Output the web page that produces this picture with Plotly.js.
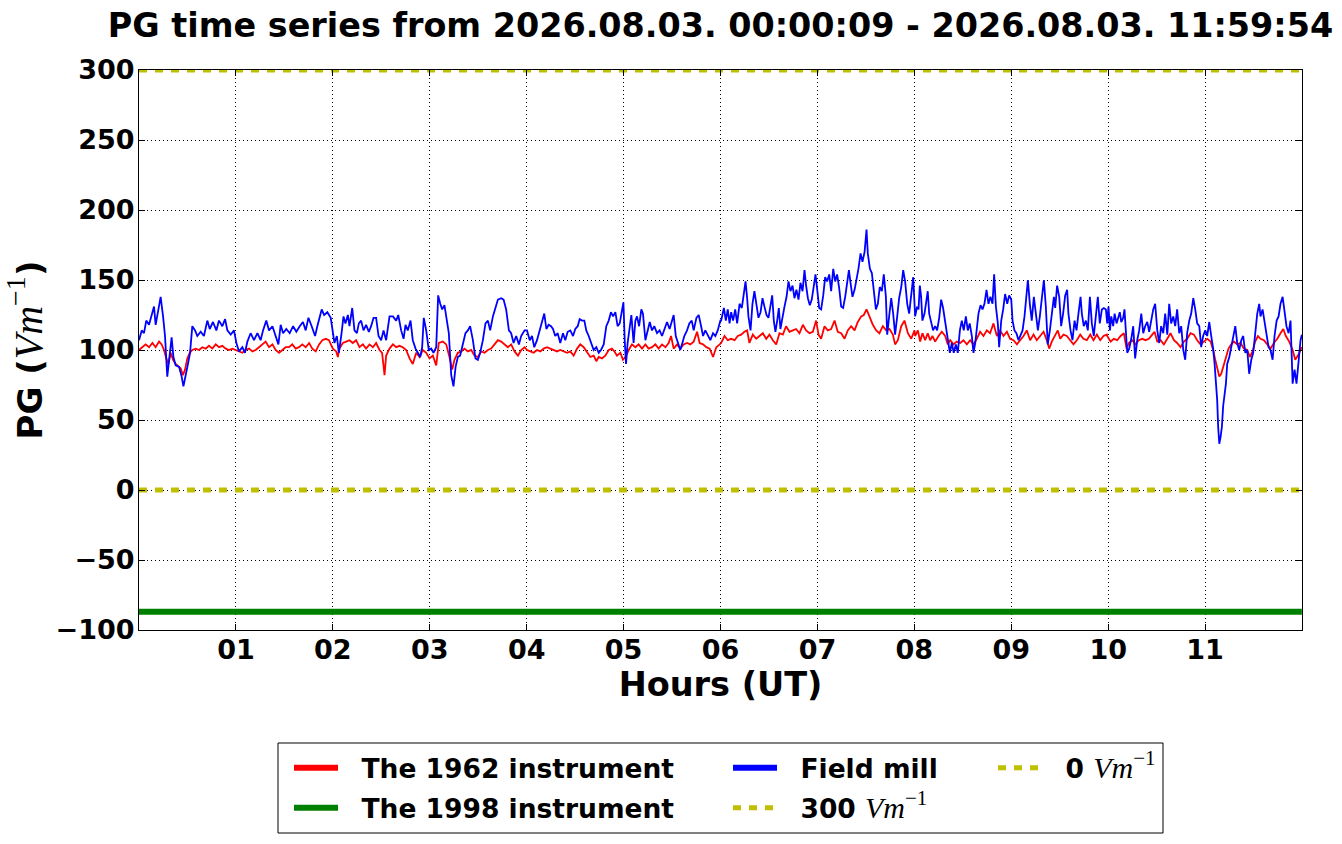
<!DOCTYPE html>
<html><head><meta charset="utf-8">
<script src="https://cdn.plot.ly/plotly-3.0.1.min.js"></script>
<style>html,body{margin:0;padding:0;background:#fff}#chart{width:1342px;height:844px}</style>
</head><body><div id="chart"></div>
<script>
const titleText = 'PG time series from 2026.08.03. 00:00:09 - 2026.08.03. 11:59:54';
const hourTickLabels = ['01','02','03','04','05','06','07','08','09','10','11'];

const redMinutes = [
0,2.1,4.1,6.2,8.3,10.3,12.4,14.0,15.5,16.9,18.2,19.6,21.1,22.7,24.4,25.8,27.2,28.5,29.9,31.4,
33.0,35.1,37.2,39.2,41.3,43.3,45.4,47.5,49.5,51.6,53.7,55.7,57.8,59.9,61.9,64,66,68.1,70.2,72.2,
74.3,76.4,78.4,80.5,82.6,84.6,86.7,88.8,90.8,92.9,94.9,97,99.1,101.1,103.2,105.3,107.3,109.4,111.5,113.5,
115.6,117.6,119.7,
120,122.1,123.1,124.1,126.2,128.3,130.3,132.4,134.4,136.5,138.6,140.6,142.7,144.8,146.8,148.9,150.5,152,153,155.1,
157.2,159.2,161.3,163.3,165.4,167.5,169.5,171.6,173.7,175.7,177.8,179.9,181.9,184,185.6,188.1,190.2,192.2,193.9,195.3,
197.4,199.5,201.5,203.6,205.7,207.7,209.8,211.8,213.9,216,218,220.1,222.2,224.2,226.3,228.4,230.4,232.5,234.6,236.6,
238.7,
240.2,242.3,244.3,246.4,248.5,250.5,252.6,254.6,256.7,258.8,260.8,262.9,265,267,269.1,271.2,273.2,275.3,277.4,279.4,
281.5,283.1,284.6,286.6,288.7,290.8,292.8,294.3,295.9,298,299.6,301.1,303.2,305.2,307.3,309.3,311.4,313.5,315.5,317.6,
319.7,321.7,323.8,325.9,327.9,329.4,331,333.1,335.1,337.2,339.3,341.3,343.4,345.5,347.1,349.2,351.2,353.3,355.4,357.4,
359.5,
360.4,362.5,364.5,366.6,368.7,370.7,372.8,374.8,376.5,377.9,380,382.1,384.1,386.2,388.3,390.3,392.4,394.5,396.5,398.6,
400.6,402.7,404.8,406.8,408.9,411,413,415.1,417.2,419.2,420.7,422.3,424.4,426.4,428.5,430.6,432.6,434.7,436.8,438.8,
440.9,443,445,447.1,448.7,450.4,452.2,454.3,456.4,458.4,460.5,462.6,464.6,466.7,468.1,469.8,471.9,473.9,476,478.1,
480.1,
480.5,482.2,483.6,485,486.7,488.3,489.8,491.2,492.9,495,497,499.1,500.7,502.2,504.2,506.3,508.4,510.4,512.5,514.6,
516.6,518.7,520.7,522.8,524.9,526.9,529,531.1,533.1,535.2,537.3,539.3,541.4,543.5,545.5,547.6,549.6,551.7,553.8,555.8,
557.9,560,562,563.5,565.1,567.2,568.8,570.3,572.3,574.4,576.5,578.5,580.6,582.7,584.7,586.8,588.9,590.9,593,595.1,
597.1,599.2,
599.4,601.5,603.5,605.6,607.7,609.7,611.4,612.8,614.9,616.9,619,621.1,623.1,625.2,627.3,628.7,630.4,632.4,634.5,636.6,
638.6,640.7,642.7,644.8,646.9,648.9,651,653.1,655.1,657.2,659.3,661.3,663.4,665,666.3,667.5,668.8,670,671.2,672.9,
674.5,676.2,677.8,679.9,682,684,686.1,687.7,689.4,691,692.7,694.3,696.4,698.5,700.5,702.6,704.7,706.7,708.4,710,
712.1,714.2,715.8,717.5,719.1,719.9];
const redValues = [
100,102,104,102,105,102,106,104,100,94,90,98,93,90,88,87,82,86,94,98,
100,101,100,102,101,103,101,104,102,103,101,100,101,100,99,98,100,101,99,100,
102,104,106,102,104,100,98,100,102,102,104,101,102,104,102,105,101,99,104,107,
108,107,102,
101,99,95,101,105,106,107,105,107,102,104,101,104,102,105,100,98,82,96,101,
104,102,103,102,100,94,90,98,95,100,98,94,96,89,105,106,104,95,86,93,
98,99,101,99,100,96,95,99,98,100,101,104,107,106,104,102,104,99,96,100,
102,
100,99,98,100,99,101,102,101,100,99,100,99,98,99,96,101,104,102,98,95,
96,92,95,94,96,100,101,99,96,98,93,95,100,104,102,104,101,104,101,102,
104,101,104,102,105,110,101,104,101,104,105,104,106,113,105,104,102,101,95,102,
104,
105,110,107,108,107,110,111,113,114,105,111,108,110,112,108,111,107,104,112,111,
117,113,114,115,112,118,114,112,113,121,111,108,117,114,115,121,113,112,108,114,
117,114,120,124,125,129,124,118,114,112,117,114,115,111,104,107,117,121,112,108,
114,
110,114,106,112,107,112,107,110,106,110,113,110,104,107,104,106,105,107,104,107,
104,108,113,110,114,112,119,110,114,110,113,108,107,104,107,110,114,107,111,107,
110,113,107,101,106,110,114,108,111,110,107,104,107,111,108,107,111,107,111,107,
110,111,
110,106,108,107,110,112,101,105,107,104,107,108,107,108,111,113,106,107,104,108,
112,107,105,102,106,108,112,111,107,104,106,108,106,100,93,86,81,83,88,95,
101,104,106,104,105,101,100,95,99,106,110,108,107,104,101,105,108,112,115,110,
106,100,93,96,101,102];

const blueMinutes = [
0,1.7,3.1,4.5,6.2,7.8,9.3,10.3,11.8,13.4,14.9,16.1,17.5,19.0,20.2,21.3,22.7,24.8,26.4,27.5,
28.9,30.3,31.6,33.0,34.7,36.1,38.2,40.2,42.3,43.8,45.8,47.9,49.5,51.6,53.3,54.7,56.8,58.8,60.3,61.9,
64.0,65.6,67.1,69.1,71.2,73.3,75.3,76.8,78.8,80.5,82.6,84.6,86.3,87.7,89.2,91.2,93.3,95.4,97.4,99.5,
101.5,103.2,104.9,106.9,109.0,110.4,113.1,114.6,116.6,118.7,
120,121,122.5,123.7,125.2,126.6,127.8,129.3,130.3,132,133.4,134.9,136.1,137.5,139,140.6,142.3,143.7,145.2,146.8,
148.3,149.9,151.4,153,155.1,157.2,159.2,160.5,162.3,163.8,165,166.4,168.1,169.5,171.2,172.6,174.1,175.3,176.3,177.8,
179.4,180.9,182.3,184,185.2,186.5,187.7,189.1,190.6,191.8,193.3,194.7,196,197.4,198.8,200.5,202.1,203.6,205,206.7,
208.3,209.8,211.2,212.9,214.5,216,217.4,219.1,220.7,222.2,224.2,225.7,227.3,229,230.4,231.9,233.5,235.2,236.6,238.7,
240.2,241.9,243.3,244.7,246.4,248,249.5,250.9,252.2,253.6,255.1,256.3,257.7,259.2,260.8,262.5,263.9,265.4,267,268.7,
270.1,271.6,272.8,274.3,275.7,276.9,278.4,279.8,281.5,283.1,284.6,286,287.7,289.3,290.8,292.2,293.5,294.9,296.3,297.6,
299,299.9,300.7,301.5,302.5,303.8,304.8,306.2,307.3,308.3,309.6,311,312,313.5,314.9,316.2,317.6,319,320.7,322.3,
323.8,325.2,326.9,328.5,330,331,332.3,333.5,335.1,336.4,337.6,339.3,340.7,342.2,343.4,345.1,346.5,348,349.2,350.6,
352.1,353.7,355.4,356.8,358.3,359.9,
360.4,362.1,363.3,364.5,365.6,366.6,367.8,369.1,370.3,371.8,373.2,374.4,375.5,376.5,377.3,378.6,379.8,381,382.3,383.5,
384.8,386,387.2,388.5,389.7,390.9,392,393,394,395.1,396.1,397.1,398.4,399.6,400.9,402.1,403.3,404.6,405.8,407,
408.3,409.5,410.8,412,413,414.1,415.3,416.5,417.8,418.8,419.8,421.1,422.3,423.6,424.8,426,427.3,428.5,429.8,431,
432.2,433.5,434.7,435.9,437.2,438.4,439.5,440.5,441.7,443,444.2,445.4,446.7,447.9,449.2,449.8,450.4,451.2,452.5,453.7,
454.9,456.2,457.4,458.6,459.9,461.1,462.4,463.2,464.4,465.7,466.9,468.1,469.4,470.6,471.9,473.1,474.3,475.6,476.8,478.1,
479.3,
480.5,481.7,482.6,483.4,484.2,485,486.3,487.1,488.3,489.2,490.4,491.6,492.9,494.1,495.4,496.6,497.8,499.1,500.1,501.1,
502,503.2,504.4,505.7,506.9,508.2,509.4,510.6,511.9,513.1,514.3,515.6,516.6,517.7,518.9,519.7,521,522.2,523.4,524.7,
525.9,527.1,528.4,529.4,530.5,531.7,532.5,533.8,535,536.2,537.5,538.7,540,540.8,542,543.2,544.5,545.7,547,548.2,
549.4,550.3,551.5,552.7,554,555.2,556.5,557.7,558.9,560.2,561.4,562.6,563.9,565.1,566.4,567.2,568.4,569.7,570.9,572.1,
573.4,574.6,575.4,576.7,577.9,579.2,580.4,581.6,582.9,583.7,584.9,586.2,587.4,588.7,589.9,591.1,592.4,593.6,594.8,596.1,
597.3,598.6,
599.4,600.2,601.1,601.9,603.1,604,605.2,606,607.2,608.1,609.3,610.1,611,611.8,613,614.3,615.5,616.7,618,619.2,
620.5,621.7,622.9,624.2,625.4,626.6,627.9,629.1,630.4,631.6,632.8,634.1,635.3,636.6,637.8,639,640.3,641.5,642.7,644,
645.2,646.5,647.7,648.9,650.2,651.4,652.7,653.9,655.1,656.4,657.6,658.8,660.1,661.3,662.6,663.8,665,665.9,666.7,667.5,
668.1,668.8,669.6,670.4,671.2,672.1,672.9,673.7,675,676.2,677.4,678.7,679.9,681.1,682.4,683.6,684.9,686.1,687.3,688.6,
689.8,691,692.3,693.5,694.3,695.6,696.8,698.1,699.3,700.5,701.8,703,704.3,705.5,706.7,708,709.2,710.4,711.7,712.9,
714.2,715.4,716.6,717.9,719.1,719.9];
const blueValues = [
107,114,112,121,118,124,131,118,129,138,124,110,81,95,109,95,89,88,81,74,
81,90,98,117,114,110,113,110,121,115,120,114,121,117,122,114,111,114,105,99,
102,98,106,112,107,112,107,114,121,114,117,110,104,118,112,115,112,117,113,117,
120,114,123,117,110,117,129,125,127,123,
114,105,110,98,110,124,119,125,117,130,114,112,119,121,114,118,113,117,123,123,
110,107,114,107,124,124,121,125,114,108,118,114,121,107,101,98,95,102,123,114,
100,101,98,102,139,133,129,132,119,112,82,74,88,95,96,105,112,114,117,107,
94,93,98,107,119,121,114,124,131,136,137,136,129,114,112,105,110,104,110,114,
114,107,110,102,107,114,121,126,115,118,117,115,110,112,105,112,107,113,114,110,
115,117,122,121,121,114,110,105,100,102,98,100,104,117,121,127,124,127,117,119,
129,134,107,90,105,117,125,105,121,124,117,129,126,107,114,120,114,117,112,114,
110,114,120,115,121,125,110,105,100,105,110,114,119,121,114,123,125,117,110,114,
110,107,112,110,114,121,
121,130,121,129,119,127,121,129,119,133,130,140,149,137,124,114,133,142,131,123,
127,137,131,125,123,133,139,121,113,121,130,115,124,131,138,149,142,146,137,143,
136,148,142,157,146,137,132,136,146,154,144,130,129,139,152,149,154,142,158,149,
154,144,131,130,138,150,157,148,138,143,150,158,169,163,170,179,186,169,158,155,
143,129,133,145,142,154,138,111,124,137,126,111,124,137,145,157,149,133,126,138,
152,
124,131,129,146,138,121,126,133,142,126,119,114,117,114,123,136,130,121,114,105,
98,105,98,104,98,114,121,114,124,114,119,110,98,105,117,126,132,129,133,143,
133,138,133,154,131,119,102,121,129,140,133,139,136,121,114,112,107,110,114,124,
139,150,133,121,138,126,114,124,139,150,131,104,114,126,138,130,146,138,117,126,
139,143,126,114,107,121,114,126,138,126,117,121,114,138,119,110,124,138,119,129,
130,129,
119,131,114,124,117,126,119,123,127,120,123,129,110,98,101,108,117,94,107,114,
126,112,117,120,113,121,129,133,114,105,117,112,126,111,133,119,124,117,129,112,
117,100,93,112,121,126,137,129,119,117,102,110,114,110,120,110,101,90,79,64,
45,33,38,45,60,67,76,90,95,102,110,117,105,100,107,110,98,100,83,93,
98,110,126,133,124,129,121,110,102,100,93,110,121,124,133,138,126,117,112,121,
76,86,76,95,107,111];

const instrument1998Minutes = [0, 719.9];
const instrument1998Values = [-87, -87];
const refMinutes = [0, 719.9];
const ref300Values = [300, 300];
const ref0Values = [0, 0];

const toHours = a => a.map(m => m / 60);
const F = 'DejaVu Sans';
const mathUnit = size => "<span style=\"font-family:'Liberation Serif';font-weight:normal;font-size:" + size + "px\"><i>Vm</i><sup>−1</sup></span>";
const gap = '\u00a0\u00a0';
const YEL = '#bfbf00';

const traces = [
  {x: toHours(redMinutes), y: redValues, type: 'scatter', mode: 'lines', line: {color: '#ff0000', width: 1.8}, showlegend: false, hoverinfo: 'skip'},
  {x: toHours(instrument1998Minutes), y: instrument1998Values, type: 'scatter', mode: 'lines', name: gap + 'The 1998 instrument', line: {color: '#008000', width: 6}, legend: 'legend2'},
  {x: toHours(blueMinutes), y: blueValues, type: 'scatter', mode: 'lines', line: {color: '#0000ff', width: 1.8}, showlegend: false, hoverinfo: 'skip'},
  {x: toHours(refMinutes), y: ref300Values, type: 'scatter', mode: 'lines', name: gap + '300 ' + mathUnit(30), line: {color: YEL, width: 5, dash: '8px,8px'}, legend: 'legend4'},
  {x: toHours(refMinutes), y: ref0Values, type: 'scatter', mode: 'lines', name: gap + '0 ' + mathUnit(30), line: {color: YEL, width: 5, dash: '8px,8px'}, legend: 'legend5'},
  {x: [null], y: [null], type: 'scatter', mode: 'lines', name: gap + 'The 1962 instrument', line: {color: '#ff0000', width: 6}, legend: 'legend'},
  {x: [null], y: [null], type: 'scatter', mode: 'lines', name: gap + 'Field mill', line: {color: '#0000ff', width: 6}, legend: 'legend3'}
];

const PL = 139, PT = 70, PW = 1163, PH = 560;
const px = v => (v - PL) / PW;
const py = v => (PT + PH - v) / PH;
const leg = (x, y) => ({x: px(x), y: py(y), xref: 'paper', yref: 'paper', xanchor: 'left', yanchor: 'middle',
  bgcolor: 'rgba(0,0,0,0)', borderwidth: 0, orientation: 'v', itemwidth: 44,
  font: {family: F, size: 26.5, color: '#000', weight: 'bold'}});

const axisCommon = {
  ticks: 'inside', ticklen: 6, tickwidth: 1, tickcolor: '#000', mirror: 'allticks',
  showline: true, linecolor: '#000', linewidth: 1,
  showgrid: true, gridcolor: '#000', gridwidth: 1, griddash: '1px,3px',
  zeroline: false, tickfont: {family: F, size: 27, color: '#000', weight: 'bold'}
};

const layout = {
  width: 1342, height: 844,
  margin: {l: PL, r: 1342 - PL - PW, t: PT, b: 844 - PT - PH, pad: 0},
  paper_bgcolor: '#fff', plot_bgcolor: '#fff',
  font: {family: F, color: '#000', weight: 'bold'},
  title: {text: titleText, font: {family: F, size: 33.4, color: '#000', weight: 'bold'},
          x: 0.5, xref: 'paper', xanchor: 'center', y: 1 - 25 / 844, yref: 'container', yanchor: 'middle'},
  xaxis: Object.assign({}, axisCommon, {
    range: [0, 12], tickmode: 'array', ticklabelstandoff: -4,
    tickvals: hourTickLabels.map(s => parseInt(s, 10)), ticktext: hourTickLabels,
    title: {text: 'Hours (UT)', font: {family: F, size: 33.5, color: '#000', weight: 'bold'}, standoff: 8}
  }),
  yaxis: Object.assign({}, axisCommon, {
    range: [-100, 300], tick0: 0, dtick: 50, ticklabelstandoff: -2,
    title: {text: 'PG (' + mathUnit(40) + ')', font: {family: F, size: 34, color: '#000', weight: 'bold'}, standoff: 12}
  }),
  showlegend: true,
  legend: leg(289, 768),
  legend2: leg(289, 808),
  legend3: leg(728, 768),
  legend4: leg(728, 808),
  legend5: leg(993, 768),
  shapes: [{type: 'rect', xref: 'paper', yref: 'paper', x0: px(278), x1: px(1163), y0: py(833), y1: py(743),
            line: {color: '#000', width: 1}, fillcolor: 'rgba(0,0,0,0)'}]
};

Plotly.newPlot('chart', traces, layout, {staticPlot: true, displayModeBar: false});
</script>
</body></html>
